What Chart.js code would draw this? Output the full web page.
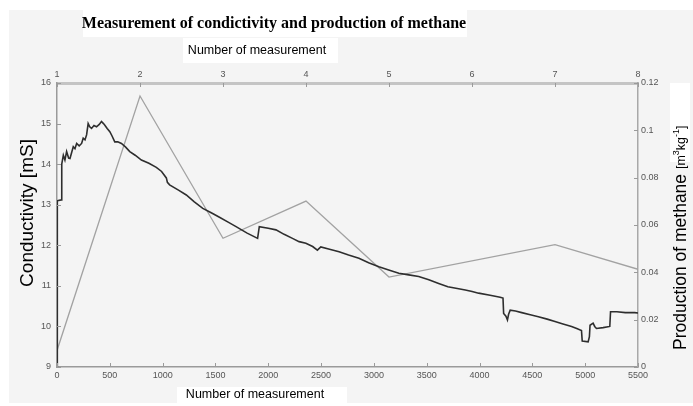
<!DOCTYPE html>
<html>
<head>
<meta charset="utf-8">
<script src="https://cdn.jsdelivr.net/npm/chart.js@4.4.0/dist/chart.umd.min.js"></script>
<style>
    html, body { margin: 0; padding: 0; background: #fff; }
</style>
</head>
<body>
<canvas id="myChart" width="693" height="406"></canvas>
<script>
// conductivity [mS] vs number of measurement (bottom axis)
const condX = [0, 3, 40, 45, 60, 75, 91, 110, 123, 140, 154, 170, 186, 210, 233, 248, 265, 280, 295, 310,
    327, 350, 374, 400, 421, 440, 453, 475, 500, 520, 547, 575, 610, 650, 689, 740, 799, 870, 940, 990,
    1035, 1045, 1066, 1150, 1224, 1300, 1380, 1460, 1538, 1620, 1695, 1800, 1899, 1915, 2000, 2073, 2150, 2229, 2292, 2356,
    2420, 2465, 2497, 2580, 2670, 2760, 2858, 2950, 3047, 3140, 3236, 3330, 3424, 3520, 3613, 3700, 3802, 3865, 3930, 3991,
    4100, 4195, 4222, 4228, 4250, 4264, 4275, 4290, 4340, 4400, 4480, 4557, 4640, 4714, 4790, 4871, 4920, 4965, 4972, 5028,
    5040, 5046, 5075, 5090, 5107, 5170, 5233, 5240, 5300, 5380, 5469, 5500];
const condY = [9.0, 13.1, 13.12, 14.0, 14.22, 14.1, 14.31, 14.15, 14.14, 14.3, 14.43, 14.38, 14.51, 14.45, 14.51, 14.64, 14.6, 14.72, 15.0, 14.92,
    14.88, 14.95, 14.92, 14.98, 15.05, 15.0, 14.96, 14.88, 14.8, 14.7, 14.55, 14.55, 14.51, 14.42, 14.31, 14.22, 14.1, 14.02, 13.92, 13.82,
    13.66, 13.55, 13.49, 13.36, 13.24, 13.07, 12.91, 12.8, 12.69, 12.57, 12.46, 12.3, 12.17, 12.46, 12.42, 12.38, 12.27, 12.17, 12.09, 12.05,
    11.97, 11.88, 11.96, 11.9, 11.84, 11.76, 11.68, 11.57, 11.47, 11.39, 11.31, 11.27, 11.23, 11.15, 11.06, 10.98, 10.93, 10.9, 10.86, 10.82,
    10.77, 10.72, 10.7, 10.32, 10.25, 10.16, 10.3, 10.4, 10.38, 10.34, 10.29, 10.24, 10.18, 10.12, 10.06, 10.0, 9.95, 9.9, 9.64, 9.62,
    9.75, 10.03, 10.08, 10.0, 9.95, 9.97, 10.0, 10.36, 10.36, 10.34, 10.34, 10.33];

// methane production [m3/kg] vs measurement number (top axis)
const measNo = [1, 2, 3, 4, 5, 7, 8];
const methane = [0.007, 0.1145, 0.0544, 0.0701, 0.038, 0.0517, 0.0413];

const titleText = 'Measurement of condictivity and production of methane';
const axisTitleX = 'Number of measurement';
const axisTitleY = 'Conductivity [mS]';
const axisTitleY2 = 'Production of methane';

const tickFont = { family: 'Arial, "Liberation Sans"', size: 9 };
const tickColor = '#555';

const paperPlugin = {
    id: 'paper',
    beforeDraw(chart) {
        const c = chart.ctx;
        c.save();
        c.fillStyle = '#ffffff';
        c.fillRect(0, 0, chart.width, chart.height);
        c.fillStyle = '#f4f4f4';
        c.fillRect(9, 10, chart.width - 9, 393);
        c.fillStyle = '#ffffff';
        c.fillRect(83, 10, 384, 27);   // title box
        c.fillRect(183, 38, 155, 25);  // top axis title box
        c.fillRect(177, 387, 170, 16); // bottom axis title box
        c.fillRect(670, 83, 20, 79);   // unit box
        c.restore();
    },
    afterDraw(chart) {
        const c = chart.ctx;
        const a = chart.chartArea;
        const s = chart.scales;
        c.save();
        // inward tick marks
        c.strokeStyle = '#9a9a9a';
        c.lineWidth = 1;
        c.beginPath();
        s.x.ticks.forEach(t => { const p = Math.round(s.x.getPixelForValue(t.value)) + 0.5; c.moveTo(p, a.bottom); c.lineTo(p, a.bottom - 4); });
        s.x2.ticks.forEach(t => { const p = Math.round(s.x2.getPixelForValue(t.value)) + 0.5; c.moveTo(p, a.top); c.lineTo(p, a.top + 4); });
        s.y.ticks.forEach(t => { const p = Math.round(s.y.getPixelForValue(t.value)) + 0.5; c.moveTo(a.left, p); c.lineTo(a.left + 4, p); });
        s.y2.ticks.forEach(t => { const p = Math.round(s.y2.getPixelForValue(t.value)) + 0.5; c.moveTo(a.right, p); c.lineTo(a.right - 4, p); });
        c.stroke();

        // titles
        c.fillStyle = '#000';
        c.textAlign = 'center';
        c.textBaseline = 'middle';
        c.font = 'bold 16px "Liberation Serif", "Times New Roman", serif';
        c.fillText(titleText, 274, 24);
        c.font = '12.5px "Liberation Sans", Arial, sans-serif';
        c.fillText(axisTitleX, 257, 51);
        c.fillText(axisTitleX, 255, 395);

        c.save();
        c.translate(28, 213);
        c.rotate(-Math.PI / 2);
        c.font = '19px "Liberation Sans", Arial, sans-serif';
        c.fillText(axisTitleY, 0, 0);
        c.restore();

        c.save();
        c.translate(681, 350);
        c.rotate(-Math.PI / 2);
        c.textAlign = 'left';
        c.font = '17.5px "Liberation Sans", Arial, sans-serif';
        c.fillText(axisTitleY2, 0, 0);
        let xPos = c.measureText(axisTitleY2 + ' ').width;
        const parts = [['[m', 12.5, 1], ['3', 9, -4], ['kg', 12.5, 1], ['-1', 9, -4], [']', 12.5, 1]];
        parts.forEach(([txt, size, dy]) => {
            c.font = size + 'px "Liberation Sans", Arial, sans-serif';
            c.fillText(txt, xPos, dy);
            xPos += c.measureText(txt).width;
        });
        c.restore();
        c.restore();
    }
};

const ctx = document.getElementById('myChart').getContext('2d');
const myChart = new Chart(ctx, {
    type: 'line',
    data: {
        datasets: [
            {
                label: 'Conductivity',
                data: condX.map((x, i) => ({ x: x, y: condY[i] })),
                xAxisID: 'x',
                yAxisID: 'y',
                borderColor: '#2e2e2e',
                borderWidth: 1.6,
                pointRadius: 0,
                tension: 0
            },
            {
                label: 'Methane',
                data: measNo.map((m, i) => ({ x: m, y: methane[i] })),
                xAxisID: 'x2',
                yAxisID: 'y2',
                borderColor: '#a2a2a2',
                borderWidth: 1.3,
                pointRadius: 0,
                tension: 0
            }
        ]
    },
    options: {
        responsive: false,
        animation: false,
        layout: { padding: 0 },
        plugins: {
            legend: { display: false },
            title: { display: false },
            tooltip: { enabled: false }
        },
        scales: {
            x: {
                type: 'linear', position: 'bottom', min: 0, max: 5500,
                ticks: { stepSize: 500, padding: 3, font: tickFont, color: tickColor, maxRotation: 0, autoSkip: false, callback: v => String(v) },
                grid: { drawOnChartArea: false, drawTicks: false },
                border: { color: '#9a9a9a', width: 1.5 },
                afterFit: s => { s.height = 39; }
            },
            x2: {
                type: 'linear', position: 'top', min: 1, max: 8,
                ticks: { stepSize: 1, padding: 3, font: tickFont, color: tickColor, maxRotation: 0, autoSkip: false },
                grid: { drawOnChartArea: false, drawTicks: false },
                border: { color: '#c4c4c4', width: 3 },
                afterFit: s => { s.height = 83; }
            },
            y: {
                type: 'linear', position: 'left', min: 9, max: 16,
                ticks: { stepSize: 1, padding: 6, font: tickFont, color: tickColor },
                grid: { drawOnChartArea: false, drawTicks: false },
                border: { color: '#9a9a9a', width: 1.5 },
                afterFit: s => { s.width = 57; }
            },
            y2: {
                type: 'linear', position: 'right', min: 0, max: 0.12,
                ticks: { stepSize: 0.02, padding: 3, font: tickFont, color: tickColor, callback: v => String(parseFloat(v.toFixed(2))) },
                grid: { drawOnChartArea: false, drawTicks: false },
                border: { color: '#a8a8a8', width: 1.5 },
                afterFit: s => { s.width = 55; }
            }
        }
    },
    plugins: [paperPlugin]
});
</script>
</body>
</html>
